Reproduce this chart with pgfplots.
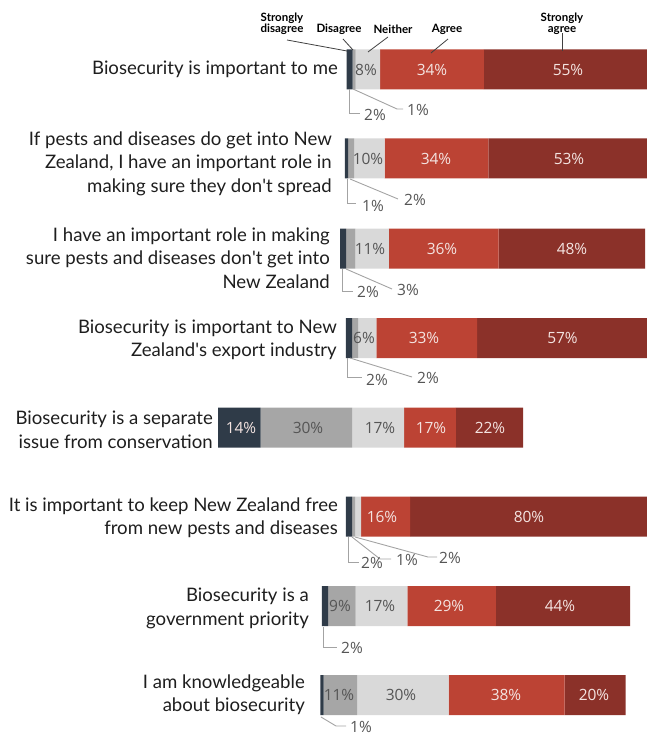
\documentclass[border=0pt]{standalone}
\usepackage{fontspec}
\setmainfont{Lato}
\newfontfamily\osans{Open Sans}
\usepackage{pgfplots}
\pgfplotsset{compat=1.18}
\definecolor{csd}{HTML}{2F3B48}
\definecolor{cd}{HTML}{A6A6A6}
\definecolor{cn}{HTML}{D9D9D9}
\definecolor{ca}{HTML}{BC4334}
\definecolor{csa}{HTML}{8B3129}
\definecolor{lead}{HTML}{A3A3A3}
\definecolor{darktxt}{HTML}{555555}
\definecolor{lighttxt}{HTML}{F4E4E1}
\definecolor{labtxt}{HTML}{1E1E1E}
\newcommand{\ap}{\textquotesingle}
\begin{document}
\begin{tikzpicture}
\begin{axis}[name=ax, scale only axis, width=647pt, height=738pt,
  xmin=0, xmax=212.1311, ymin=0, ymax=738, y dir=reverse,
  hide axis, xbar stacked, bar width=40, clip mode=individual]
% invisible offsets (bar start positions)
\addplot[draw=none, fill=none] coordinates {(113.61,69.5) (113.11,158.5) (111.48,248.5) (113.44,338) (71.48,427.5) (113.44,516.5) (105.57,606) (105.08,695)};
% Strongly disagree
\addplot[fill=csd, draw=none] coordinates {(2,69.5) (1,158.5) (2,248.5) (2,338) (14,427.5) (2,516.5) (2,606) (1,695)};
% Disagree
\addplot[fill=cd, draw=none] coordinates {(1,69.5) (2,158.5) (3,248.5) (2,338) (30,427.5) (1,516.5) (9,606) (11,695)};
% Neither
\addplot[fill=cn, draw=none] coordinates {(8,69.5) (10,158.5) (11,248.5) (6,338) (17,427.5) (2,516.5) (17,606) (30,695)};
% Agree
\addplot[fill=ca, draw=none] coordinates {(34,69.5) (34,158.5) (36,248.5) (33,338) (17,427.5) (16,516.5) (29,606) (38,695)};
% Strongly agree
\addplot[fill=csa, draw=none] coordinates {(55,69.5) (53,158.5) (48,248.5) (57,338) (22,427.5) (80,516.5) (44,606) (20,695)};
\end{axis}
\begin{scope}[shift={(ax.north west)}, x=1pt, y=-1pt]
% header
\begin{scope}[font=\bfseries\fontsize{11.5}{11}\selectfont, inner sep=0pt]
\node[align=center] at (282,24) {Strongly\\disagree};
\node at (339,29) {Disagree};
\node at (393,29) {Neither};
\node at (447,29) {Agree};
\node[align=center] at (562,24) {Strongly\\agree};
\end{scope}
\begin{scope}[draw=black!75, line width=0.8pt]
\draw (287,40)--(347,51);
\draw (343,39)--(353,50);
\draw (388,37)--(368,52);
\draw (448,39)--(431,53);
\draw (562,33)--(562,51);
\end{scope}
% left labels
\begin{scope}[font=\fontsize{18.6}{23.5}\selectfont, text=labtxt, inner sep=0pt, anchor=east, align=right]
\node[anchor=east] at (338,69) {Biosecurity is important to me};
\node[anchor=east] at (332,163.5) {If pests and diseases do get into New\\Zealand, I have an important role in\\making sure they don\ap t spread};
\node[anchor=east] at (330,258) {I have an important role in making\\sure pests and diseases don\ap t get into\\New Zealand};
\node[anchor=east] at (337,340) {Biosecurity is important to New\\Zealand\ap s export industry};
\node[anchor=east] at (213,430) {Biosecurity is a separate\\issue from conservation};
\node[anchor=east] at (338,517.5) {It is important to keep New Zealand free\\from new pests and diseases};
\node[anchor=east] at (309,608.5) {Biosecurity is a\\government priority};
\node[anchor=east] at (305,694.5) {I am knowledgeable\\about biosecurity};
\end{scope}
% in-bar labels
\begin{scope}[font=\osans\fontsize{15.5}{18}\selectfont, inner sep=0pt]
\node[text=darktxt] at (366,69.5) {8\%};
\node[text=lighttxt] at (432,69.5) {34\%};
\node[text=lighttxt] at (568,69.5) {55\%};
\node[text=darktxt] at (368,158.5) {10\%};
\node[text=lighttxt] at (436,158.5) {34\%};
\node[text=lighttxt] at (569,158.5) {53\%};
\node[text=darktxt] at (370,248.5) {11\%};
\node[text=lighttxt] at (442,248.5) {36\%};
\node[text=lighttxt] at (572,248.5) {48\%};
\node[text=darktxt] at (364,338) {6\%};
\node[text=lighttxt] at (424,338) {33\%};
\node[text=lighttxt] at (562.5,338) {57\%};
\node[text=lighttxt] at (241,427.5) {14\%};
\node[text=darktxt] at (308,427.5) {30\%};
\node[text=darktxt] at (380,427.5) {17\%};
\node[text=lighttxt] at (431,427.5) {17\%};
\node[text=lighttxt] at (490,427.5) {22\%};
\node[text=lighttxt] at (382,516.5) {16\%};
\node[text=lighttxt] at (529,516.5) {80\%};
\node[text=darktxt] at (340,606) {9\%};
\node[text=darktxt] at (380,606) {17\%};
\node[text=lighttxt] at (449,606) {29\%};
\node[text=lighttxt] at (560,606) {44\%};
\node[text=darktxt] at (339,695) {11\%};
\node[text=darktxt] at (401,695) {30\%};
\node[text=lighttxt] at (506,695) {38\%};
\node[text=lighttxt] at (594,695) {20\%};
\end{scope}
% leader lines and outside labels
\begin{scope}[draw=lead, line width=0.9pt]
\draw (349,89)--(349,113)--(360,113);
\draw (353,89)--(397,109)--(403,109);
\draw (347,179)--(347,203)--(356,203);
\draw (350,179)--(398,199);
\draw (342,269)--(342,291)--(353,291);
\draw (346,269)--(392,289);
\draw (347,358)--(347,377)--(362,377);
\draw (350,358)--(412,377);
\draw (348,537)--(348,562)--(359,562);
\draw (352,537)--(380,559)--(391,559);
\draw (355,537)--(428,557)--(437,557);
\draw (323,627)--(323,647)--(337,647);
\draw (321,717)--(336,726)--(346,726);
\end{scope}
\begin{scope}[font=\osans\fontsize{15.5}{18}\selectfont, inner sep=0pt, text=darktxt]
\node[anchor=west] at (364,115) {2\%};
\node[anchor=west] at (407,110) {1\%};
\node[anchor=west] at (362,206) {1\%};
\node[anchor=west] at (404,200) {2\%};
\node[anchor=west] at (357,292) {2\%};
\node[anchor=west] at (397,290) {3\%};
\node[anchor=west] at (366,380) {2\%};
\node[anchor=west] at (417,378) {2\%};
\node[anchor=west] at (361,563) {2\%};
\node[anchor=west] at (396,560) {1\%};
\node[anchor=west] at (439,558) {2\%};
\node[anchor=west] at (341,648) {2\%};
\node[anchor=west] at (350,727) {1\%};
\end{scope}
\end{scope}
\pgfresetboundingbox
\path (ax.south west) rectangle (ax.north east);
\end{tikzpicture}
\end{document}
